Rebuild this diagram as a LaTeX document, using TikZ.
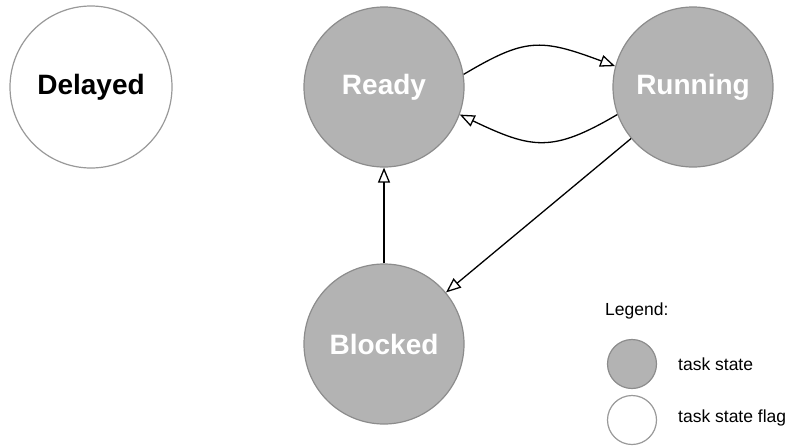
\documentclass[tikz,border=0pt]{standalone}
\usepackage{fontspec}
\setmainfont{Liberation Sans}
\usetikzlibrary{arrows.meta}
\definecolor{stfill}{HTML}{B3B3B3}
\definecolor{stline}{HTML}{8C8C8C}
\definecolor{flagline}{HTML}{999999}
\begin{document}
\begin{tikzpicture}[x=1pt,y=-1pt,
  statenode/.style={circle,draw=stline,fill=stfill,line width=1.2pt,minimum size=160pt,inner sep=0pt,
    text=white,font=\fontsize{28}{32}\selectfont\bfseries},
  flagnode/.style={circle,draw=flagline,fill=white,line width=1.2pt,minimum size=162pt,inner sep=0pt,
    text=black,font=\fontsize{28}{32}\selectfont\bfseries},
  legstate/.style={circle,draw=stline,fill=stfill,line width=1.2pt,minimum size=49pt,inner sep=0pt},
  legflag/.style={circle,draw=flagline,fill=white,line width=1.2pt,minimum size=49pt,inner sep=0pt},
  legtext/.style={anchor=west,inner sep=0pt,font=\fontsize{17.5}{20}\selectfont},
  conn/.style={draw=black,line width=1.3pt,-{Triangle[open,length=15pt,width=12pt]}}]
\useasboundingbox (0,0) rectangle (797,445);

\node[flagnode] (delayed) at (91,87) {Delayed};
\node[statenode] (ready) at (384,87) {Ready};
\node[statenode] (running) at (693,87) {Running};
\node[statenode] (blocked) at (384,344) {Blocked};

\draw[conn] (ready.9) .. controls (525,38) and (540,38) .. (running.165);
\draw[conn] (running.200) .. controls (552,153) and (532,149) .. (ready.340);
\draw[conn] (running) -- (blocked);
\draw[conn] (blocked) -- (ready);

\node[legtext] (legend) at (605,311) {Legend:};
\node[legstate] (lstate) at (632,364) {};
\node[legflag] (lflag) at (632,420) {};
\node[legtext] (tstate) at (678,364) {task state};
\node[legtext] (tflag) at (678,418) {task state flag};
\end{tikzpicture}
\end{document}
